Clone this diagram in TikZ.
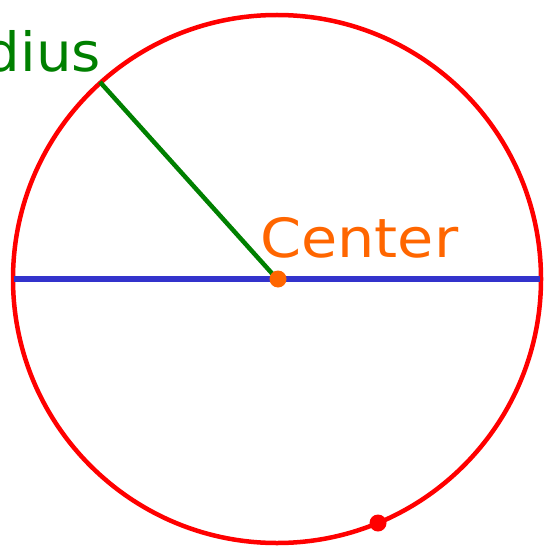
\documentclass[tikz,border=0pt]{standalone}
\usepackage{fontspec}
\setmainfont{DejaVu Sans}
\definecolor{cred}{RGB}{255,0,0}
\definecolor{cblue}{RGB}{51,51,204}
\definecolor{cgreen}{RGB}{0,128,0}
\definecolor{corange}{RGB}{255,102,0}
\tikzset{
  lbl/.style={inner sep=0pt, font=\fontsize{54}{60}\selectfont},
  dotmark/.style={circle, inner sep=0pt, minimum size=17pt},
}
\begin{document}
\begin{tikzpicture}[x=1pt,y=-1pt]
\useasboundingbox (0,0) rectangle (544,548);
\clip (0,0) rectangle (544,548);
\fill[white] (0,0) rectangle (544,548);
\coordinate (O) at (277,279);
\coordinate (L) at (14,279);
\coordinate (R) at (540,279);
\coordinate (P) at (100,82);
\draw[cred, line width=4.5pt] (O) circle[radius=264];
\draw[cblue, line width=6pt] (L) -- (R);
\draw[cgreen, line width=4.5pt] (P) -- (O);
\node[dotmark, fill=corange] (c) at (278,279) {};
\node[dotmark, fill=cred] (d) at (378,523) {};
\node[lbl, text=corange, anchor=base west, xscale=1.09] (ct) at (260,257) {Center};
\node[lbl, text=cgreen, anchor=base east, xscale=1.04] (rt) at (101,72) {Radius};
\end{tikzpicture}
\end{document}
